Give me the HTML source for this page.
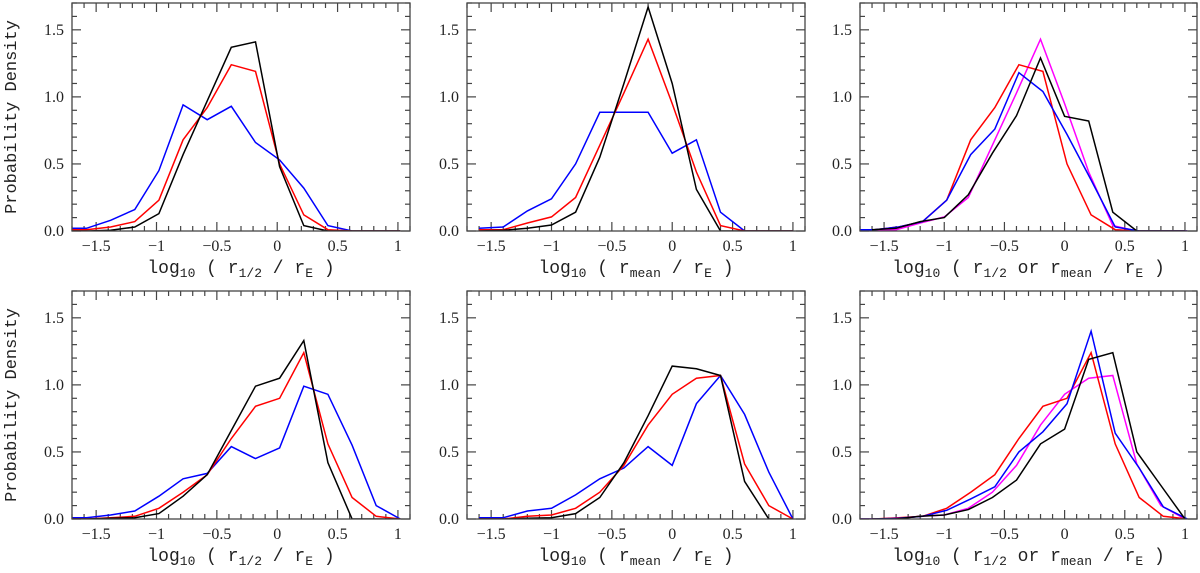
<!DOCTYPE html>
<html><head><meta charset="utf-8"><style>
body{margin:0;background:#fff;}
svg{display:block;font-family:"Liberation Serif",serif;}
</style></head><body>
<svg id="fig" width="1200" height="573" viewBox="0 0 1200 573" xmlns="http://www.w3.org/2000/svg"></svg>
<script>
// shared bin centres
const xOff = [-1.78,-1.58,-1.38,-1.18,-0.98,-0.78,-0.58,-0.38,-0.18,0.02,0.22,0.42,0.62,0.82,1.02];
const xBin = [-1.6,-1.4,-1.2,-1.0,-0.8,-0.6,-0.4,-0.2,0,0.2,0.4,0.6,0.8,1.0];
// panel 1 (top-left)
const p1Blue  = [0.02,0.02,0.08,0.16,0.45,0.94,0.83,0.93,0.66,0.53,0.32,0.04,0,0,0];
const p1Red   = [0.01,0.01,0.03,0.07,0.23,0.68,0.92,1.24,1.19,0.5,0.12,0.01,0,0,0];
const p1Black = [0,0,0.005,0.03,0.13,0.57,0.97,1.37,1.41,0.48,0.04,0,0,0,0];
// panel 2 (top-middle)
const p2Blue  = [0.02,0.03,0.15,0.24,0.5,0.885,0.885,0.885,0.58,0.68,0.14,0,0,0];
const p2Red   = [0.01,0.01,0.06,0.105,0.25,0.64,1.03,1.43,0.95,0.44,0.04,0,0,0];
const p2Black = [0,0.005,0.02,0.045,0.14,0.55,1.1,1.67,1.1,0.31,0,0,0,0];
// panel 3 (top-right)
const p3Blue  = [0.01,0.01,0.03,0.07,0.23,0.57,0.76,1.18,1.04,0.72,0.38,0.03,0,0,0];
const p3Black = [0.01,0.02,0.07,0.1,0.27,0.58,0.86,1.29,0.855,0.82,0.14,0,0,0];
// panel 4 (bottom-left)
const p4Blue  = [0.01,0.01,0.03,0.06,0.17,0.3,0.34,0.54,0.45,0.53,0.99,0.93,0.55,0.1,0];
const p4Red   = [0,0,0.01,0.02,0.08,0.2,0.33,0.6,0.84,0.9,1.24,0.56,0.16,0.02,0];
const p4Black = [0,0,0.005,0.01,0.04,0.17,0.33,0.66,0.99,1.05,1.33,0.42,0,0,0];
// panel 5 (bottom-middle)
const p5Blue  = [0.01,0.01,0.06,0.08,0.18,0.3,0.38,0.54,0.4,0.86,1.07,0.78,0.35,0];
const p5Red   = [0,0,0.02,0.03,0.08,0.2,0.4,0.7,0.93,1.05,1.07,0.41,0.1,0];
const p5Black = [0,0,0.005,0.01,0.04,0.16,0.42,0.77,1.14,1.12,1.07,0.28,0,0];
// panel 6 (bottom-right)
const p6Blue  = [0,0,0.005,0.02,0.065,0.15,0.24,0.5,0.65,0.86,1.40,0.64,0.38,0.09,0];
const p6Black = [0,0,0.02,0.03,0.07,0.16,0.29,0.56,0.67,1.19,1.24,0.5,0.25,0];
const xTicks = [-1.5,-1,-0.5,0,0.5,1];
const xTickLabels = ["\u22121.5","\u22121","\u22120.5","0","0.5","1"];
const yTicks = [0,0.5,1,1.5];
const yTickLabels = ["0.0","0.5","1.0","1.5"];

const NS="http://www.w3.org/2000/svg";
const svg=document.getElementById('fig');
function el(tag,attrs,parent){const e=document.createElementNS(NS,tag);for(const k in attrs)e.setAttribute(k,attrs[k]);(parent||svg).appendChild(e);return e;}

const panels=[
 {l:72,r:410,t:3,b:231,name:'panel-top-left',xlab:['r','1/2'],ylab:true,
  series:[[xOff,p1Blue,'#0000ff','blue'],[xOff,p1Red,'#ff0000','red'],[xOff,p1Black,'#000','black']]},
 {l:467,r:805,t:3,b:231,name:'panel-top-middle',xlab:['r','mean'],ylab:false,
  series:[[xBin,p2Blue,'#0000ff','blue'],[xBin,p2Red,'#ff0000','red'],[xBin,p2Black,'#000','black']]},
 {l:860,r:1197,t:3,b:231,name:'panel-top-right',xlab:'or',ylab:false,
  series:[[xBin,p2Red,'#ff00ff','magenta'],[xOff,p1Red,'#ff0000','red'],[xOff,p3Blue,'#0000ff','blue'],[xBin,p3Black,'#000','black']]},
 {l:72,r:410,t:291,b:519,name:'panel-bottom-left',xlab:['r','1/2'],ylab:true,
  series:[[xOff,p4Blue,'#0000ff','blue'],[xOff,p4Red,'#ff0000','red'],[xOff,p4Black,'#000','black']]},
 {l:467,r:805,t:291,b:519,name:'panel-bottom-middle',xlab:['r','mean'],ylab:false,
  series:[[xBin,p5Blue,'#0000ff','blue'],[xBin,p5Red,'#ff0000','red'],[xBin,p5Black,'#000','black']]},
 {l:860,r:1197,t:291,b:519,name:'panel-bottom-right',xlab:'or',ylab:false,
  series:[[xBin,p5Red,'#ff00ff','magenta'],[xOff,p4Red,'#ff0000','red'],[xOff,p6Blue,'#0000ff','blue'],[xBin,p6Black,'#000','black']]}
];

panels.forEach((p,i)=>{
  const g=el('g',{});
  
  
  const X=v=>p.l+(v+1.7)/2.8*(p.r-p.l);
  const Y=v=>p.b-v/1.7*(p.b-p.t);
  const cp=el('clipPath',{id:'cp'+i},g);
  el('rect',{x:p.l,y:p.t,width:p.r-p.l,height:p.b-p.t},cp);
  for(let k=-17;k<=11;k++){const v=k/10;const major=(k%5===0);const len=major?9:5;const x=X(v);
    el('line',{x1:x,y1:p.b,x2:x,y2:p.b-len,stroke:'#444','stroke-width':1.2},g);
    el('line',{x1:x,y1:p.t,x2:x,y2:p.t+len,stroke:'#444','stroke-width':1.2},g);}
  for(let k=0;k<=17;k++){const v=k/10;const major=(k%5===0);const len=major?9:5;const y=Y(v);
    el('line',{x1:p.l,y1:y,x2:p.l+len,y2:y,stroke:'#444','stroke-width':1.2},g);
    el('line',{x1:p.r,y1:y,x2:p.r-len,y2:y,stroke:'#444','stroke-width':1.2},g);}
  xTicks.forEach((v,j)=>{const t=el('text',{x:X(v),y:p.b+20,'text-anchor':'middle','font-size':16,fill:'#222'},g);t.textContent=xTickLabels[j];
    
    });
  yTicks.forEach((v,j)=>{const t=el('text',{x:p.l-8,y:Y(v)+5,'text-anchor':'end','font-size':16,fill:'#222'},g);t.textContent=yTickLabels[j];
    
    });
  p.series.forEach(s=>{const pts=s[0].map((x,j)=>X(x).toFixed(1)+','+Y(s[1][j]).toFixed(1)).join(' ');
    const pl=el('polyline',{points:pts,fill:'none',stroke:s[2],'stroke-width':1.5,'clip-path':'url(#cp'+i+')'},g);
    
    });
  el('rect',{x:p.l,y:p.t,width:p.r-p.l,height:p.b-p.t,fill:'none',stroke:'#444','stroke-width':1.3},g);
  const cx=(p.l+p.r)/2, ty=p.b+42;
  const t=el('text',{x:cx,y:ty,'text-anchor':'middle','font-size':18,fill:'#222','font-family':'Liberation Mono, monospace'},g);
  
  
  let html='log<tspan font-size="13" dy="4">10</tspan><tspan dy="-4"> ( r</tspan>';
  if(p.xlab==='or') html+='<tspan font-size="13" dy="4">1/2</tspan><tspan dy="-4"> or r</tspan><tspan font-size="13" dy="4">mean</tspan><tspan dy="-4"> / r</tspan>';
  else html+='<tspan font-size="13" dy="4">'+p.xlab[1]+'</tspan><tspan dy="-4"> / r</tspan>';
  html+='<tspan font-size="13" dy="4">E</tspan><tspan dy="-4"> )</tspan>';
  t.innerHTML=html;
  if(p.ylab){const yt=el('text',{x:0,y:0,'text-anchor':'middle','font-size':17,fill:'#222','font-family':'Liberation Mono, monospace',transform:'translate(16,'+((p.t+p.b)/2)+') rotate(-90)'},g);
    yt.textContent='Probability Density';
    
    }
});
</script>
</body></html>
